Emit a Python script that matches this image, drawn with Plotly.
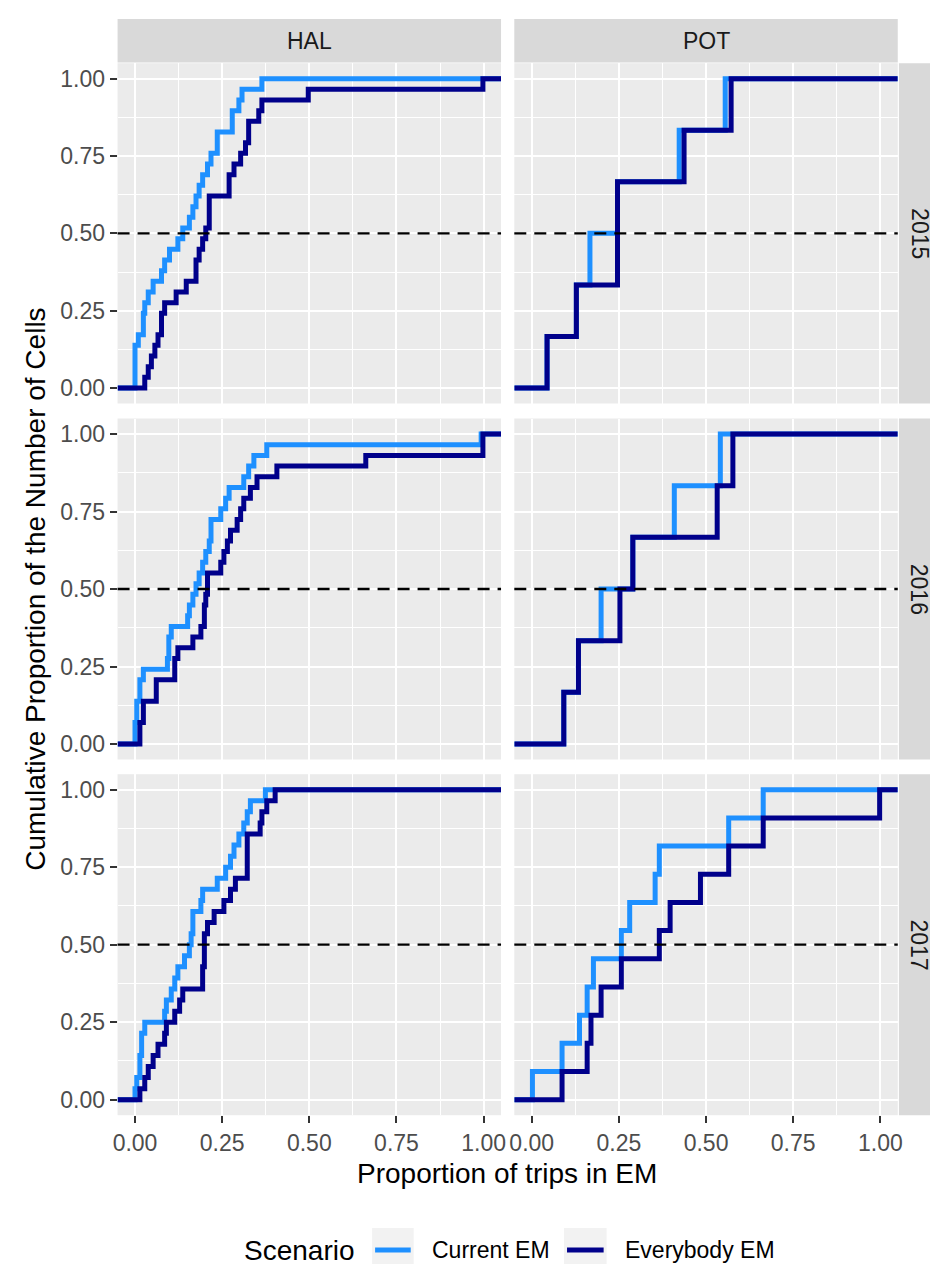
import numpy as np
import plotly.graph_objects as go

# ---------------- data (proportion of trips in EM per cell) ----------------
AREAS = ["HAL", "POT"]
YEARS = ["2015", "2016", "2017"]
SCENARIOS = ["Current EM", "Everybody EM"]

hal_2015_current = [0, 0, 0, 0, 0.0095, 0.024, 0.024, 0.028, 0.038, 0.052, 0.076, 0.085,
                    0.099, 0.123, 0.137, 0.156, 0.166, 0.175, 0.184, 0.194, 0.208, 0.218,
                    0.236, 0.236, 0.279, 0.279, 0.298, 0.307, 0.364]
hal_2015_everybody = [0.028, 0.038, 0.047, 0.057, 0.066, 0.076, 0.076, 0.085, 0.118, 0.147,
                      0.175, 0.175, 0.184, 0.194, 0.203, 0.213, 0.213, 0.213, 0.270, 0.270,
                      0.284, 0.303, 0.317, 0.326, 0.326, 0.355, 0.364, 0.497, 0.998]
pot_2015_current = [0.044, 0.128, 0.167, 0.246, 0.423, 0.555]
pot_2015_everybody = [0.044, 0.128, 0.246, 0.246, 0.437, 0.572]

hal_2016_current = [0, 0, 0.005, 0.005, 0.014, 0.014, 0.024, 0.093, 0.097, 0.097, 0.104,
                    0.151, 0.156, 0.166, 0.175, 0.184, 0.194, 0.203, 0.213, 0.218, 0.218,
                    0.246, 0.260, 0.270, 0.312, 0.326, 0.341, 0.378, 0.993]
hal_2016_everybody = [0.014, 0.014, 0.024, 0.024, 0.061, 0.061, 0.114, 0.114, 0.123, 0.166,
                      0.189, 0.199, 0.199, 0.203, 0.208, 0.208, 0.246, 0.255, 0.265, 0.274,
                      0.293, 0.303, 0.312, 0.331, 0.350, 0.407, 0.662, 0.998, 0.998]
pot_2016_current = [0.092, 0.134, 0.199, 0.290, 0.409, 0.541]
pot_2016_everybody = [0.092, 0.134, 0.253, 0.290, 0.532, 0.577]

hal_2017_current = [0, 0.005, 0.014, 0.014, 0.019, 0.019, 0.028, 0.085, 0.090, 0.104, 0.114,
                    0.123, 0.142, 0.156, 0.161, 0.166, 0.166, 0.189, 0.194, 0.236, 0.260,
                    0.274, 0.284, 0.298, 0.312, 0.322, 0.331, 0.374]
hal_2017_everybody = [0.014, 0.028, 0.038, 0.052, 0.066, 0.085, 0.090, 0.114, 0.128, 0.137,
                      0.194, 0.194, 0.199, 0.199, 0.199, 0.208, 0.227, 0.255, 0.274, 0.288,
                      0.322, 0.322, 0.322, 0.322, 0.359, 0.364, 0.378, 0.402]
pot_2017_current = [0.002, 0.087, 0.137, 0.159, 0.177, 0.257, 0.281, 0.354, 0.366, 0.565, 0.664]
pot_2017_everybody = [0.087, 0.159, 0.170, 0.199, 0.257, 0.366, 0.397, 0.484, 0.565, 0.664, 0.998]

DATA = {
    ("HAL", "2015"): [hal_2015_current, hal_2015_everybody],
    ("POT", "2015"): [pot_2015_current, pot_2015_everybody],
    ("HAL", "2016"): [hal_2016_current, hal_2016_everybody],
    ("POT", "2016"): [pot_2016_current, pot_2016_everybody],
    ("HAL", "2017"): [hal_2017_current, hal_2017_everybody],
    ("POT", "2017"): [pot_2017_current, pot_2017_everybody],
}

X_RANGE = [-0.05, 1.05]
Y_RANGE = [-0.05, 1.05]
TICK_VALS = [0, 0.25, 0.5, 0.75, 1.0]
TICK_TEXT = ["0.00", "0.25", "0.50", "0.75", "1.00"]
MINOR_VALS = [0.125, 0.375, 0.625, 0.875]
MEDIAN = 0.5

X_TITLE = "Proportion of trips in EM"
Y_TITLE = "Cumulative Proportion of the Number of Cells"
LEGEND_TITLE = "Scenario"

# ---------------- styles ----------------
W, H = 938, 1264
FONT = "Liberation Sans, Arial, sans-serif"
COLORS = {"Current EM": "#1E90FF", "Everybody EM": "#00008B"}
PANEL_BG = "#EBEBEB"
STRIP_BG = "#D9D9D9"

COL_PX = [(105.7, 493.3), (506.7, 894.3)]
ROW_PX = [(55.2, 395.5), (410.5, 751.5), (766.2, 1107.2)]


def px_x(p):
    return p / W


def px_y(p):
    return 1 - p / H


def ecdf_xy(values):
    v = np.sort(np.asarray(values, dtype=float))
    n = len(v)
    xs = np.concatenate([[X_RANGE[0]], v, [X_RANGE[1]]])
    ys = np.concatenate([[0.0], np.arange(1, n + 1) / n, [1.0]])
    return xs, ys


fig = go.Figure()
layout = dict()
shapes = []
annotations = []

for r, year in enumerate(YEARS):
    for c, area in enumerate(AREAS):
        i = r * 2 + c + 1
        xa = "x" if i == 1 else f"x{i}"
        ya = "y" if i == 1 else f"y{i}"
        xkey = "xaxis" if i == 1 else f"xaxis{i}"
        ykey = "yaxis" if i == 1 else f"yaxis{i}"
        bottom = r == len(YEARS) - 1
        left = c == 0
        layout[xkey] = dict(
            domain=[px_x(COL_PX[c][0]), px_x(COL_PX[c][1])],
            anchor=ya, range=X_RANGE, tickvals=TICK_VALS, ticktext=TICK_TEXT,
            showgrid=True, gridcolor="white", gridwidth=2.2,
            minor=dict(tickvals=MINOR_VALS, showgrid=True, gridcolor="white",
                       gridwidth=1.1, ticks=""),
            zeroline=False, showline=False,
            ticks="outside" if bottom else "", ticklen=7, tickwidth=2.2,
            tickcolor="#333333", showticklabels=bottom,
            tickfont=dict(family=FONT, size=23, color="#4D4D4D"),
            fixedrange=True,
        )
        layout[ykey] = dict(
            domain=[px_y(ROW_PX[r][1]), px_y(ROW_PX[r][0])],
            anchor=xa, range=Y_RANGE, tickvals=TICK_VALS, ticktext=TICK_TEXT,
            showgrid=True, gridcolor="white", gridwidth=2.2,
            minor=dict(tickvals=MINOR_VALS, showgrid=True, gridcolor="white",
                       gridwidth=1.1, ticks=""),
            zeroline=False, showline=False,
            ticks="outside" if left else "", ticklen=7, tickwidth=2.2,
            tickcolor="#333333", showticklabels=left,
            tickfont=dict(family=FONT, size=23, color="#4D4D4D"),
            fixedrange=True,
        )
        for s, scen in enumerate(SCENARIOS):
            xs, ys = ecdf_xy(DATA[(area, year)][s])
            fig.add_trace(go.Scatter(
                x=xs, y=ys, mode="lines", line=dict(color=COLORS[scen], width=5, shape="hv"),
                name=scen, legendgroup=scen, showlegend=False, xaxis=xa, yaxis=ya,
                hovertemplate="%{x:.3f}, %{y:.3f}<extra>" + scen + "</extra>",
            ))
        shapes.append(dict(type="line", xref=f"{xa} domain", yref=ya, x0=0, x1=1,
                           y0=MEDIAN, y1=MEDIAN, layer="above",
                           line=dict(color="black", width=2.3, dash="12px,8px")))

# top strips (areas)
for c, area in enumerate(AREAS):
    x0, x1 = COL_PX[c]
    shapes.append(dict(type="rect", xref="paper", yref="paper", x0=px_x(x0), x1=px_x(x1),
                       y0=px_y(54.5), y1=px_y(11), fillcolor=STRIP_BG, line=dict(width=0),
                       layer="below"))
    annotations.append(dict(text=area, xref="paper", yref="paper", x=px_x((x0 + x1) / 2),
                            y=px_y(33), showarrow=False, xanchor="center", yanchor="middle",
                            font=dict(family=FONT, size=23, color="#1A1A1A")))

# right strips (years)
for r, year in enumerate(YEARS):
    y0, y1 = ROW_PX[r]
    shapes.append(dict(type="rect", xref="paper", yref="paper", x0=px_x(895.5), x1=px_x(937),
                       y0=px_y(y1), y1=px_y(y0), fillcolor=STRIP_BG, line=dict(width=0),
                       layer="below"))
    annotations.append(dict(text=year, xref="paper", yref="paper", x=px_x(916),
                            y=px_y((y0 + y1) / 2), showarrow=False, textangle=90,
                            xanchor="center", yanchor="middle",
                            font=dict(family=FONT, size=23, color="#1A1A1A")))

# axis titles
annotations.append(dict(text=X_TITLE, xref="paper", yref="paper", x=px_x(499.5), y=px_y(1165),
                        showarrow=False, xanchor="center", yanchor="middle",
                        font=dict(family=FONT, size=28, color="black")))
annotations.append(dict(text=Y_TITLE, xref="paper", yref="paper", x=px_x(22), y=px_y(581),
                        showarrow=False, textangle=-90, xanchor="center", yanchor="middle",
                        font=dict(family=FONT, size=28, color="black")))

# legend (ggplot style, built manually)
LEG_Y = 1242
annotations.append(dict(text=LEGEND_TITLE, xref="paper", yref="paper", x=px_x(231), y=px_y(LEG_Y),
                        showarrow=False, xanchor="left", yanchor="middle",
                        font=dict(family=FONT, size=28, color="black")))
key_boxes = [(363, 405, 421), (557, 600, 617)]
for (kx0, kx1, tx), scen in zip(key_boxes, SCENARIOS):
    shapes.append(dict(type="rect", xref="paper", yref="paper", x0=px_x(kx0), x1=px_x(kx1),
                       y0=px_y(1264), y1=px_y(1220), fillcolor="#F2F2F2", line=dict(width=0)))
    shapes.append(dict(type="line", xref="paper", yref="paper", x0=px_x(kx0 + 3), x1=px_x(kx1 - 3),
                       y0=px_y(LEG_Y), y1=px_y(LEG_Y), line=dict(color=COLORS[scen], width=5)))
    annotations.append(dict(text=scen, xref="paper", yref="paper", x=px_x(tx), y=px_y(LEG_Y),
                            showarrow=False, xanchor="left", yanchor="middle",
                            font=dict(family=FONT, size=23, color="black")))

fig.update_layout(
    width=W, height=H, margin=dict(l=0, r=0, t=0, b=0),
    paper_bgcolor="white", plot_bgcolor=PANEL_BG,
    font=dict(family=FONT, color="black"),
    showlegend=False, shapes=shapes, annotations=annotations,
    **layout,
)

fig.write_html("out.html")
